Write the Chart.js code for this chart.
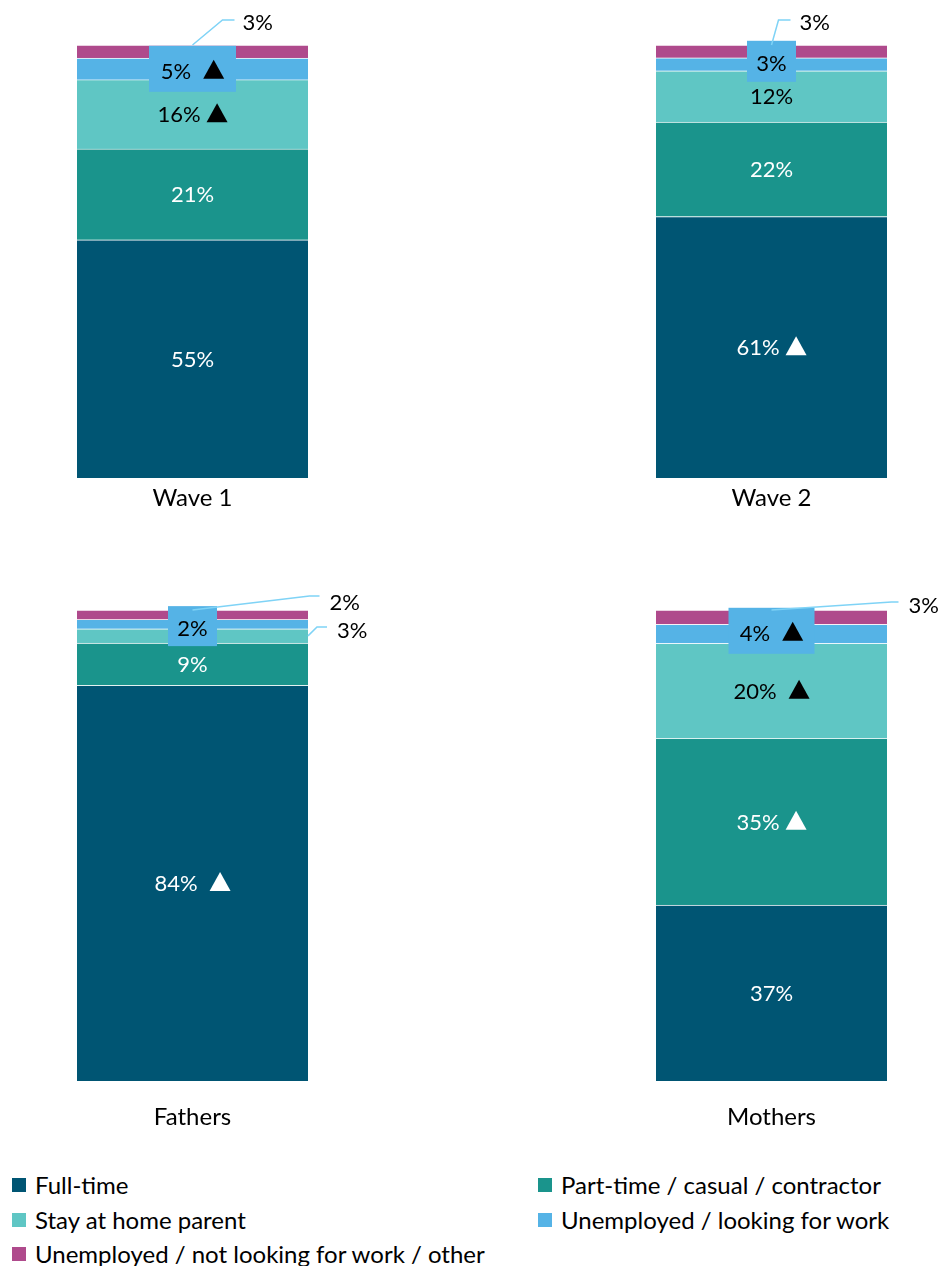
<!DOCTYPE html>
<html>
<head>
<meta charset="utf-8">
<script src="https://cdn.jsdelivr.net/npm/chart.js@4.4.0/dist/chart.umd.min.js"></script>
<style>
  html, body { margin:0; padding:0; background:#fff; }
  body { width:943px; height:1266px; overflow:hidden; position:relative; font-family:Lato, "Noto Sans", sans-serif; }
  canvas { position:absolute; left:0; }
  #c1 { top:0; }
  #c2 { top:560px; }
  .lg { position:absolute; font-size:24px; color:#000; line-height:28px; white-space:nowrap; }
  .lg i { position:absolute; left:0; top:7px; width:14px; height:14px; }
  .lg span { position:absolute; left:23px; top:0; }
</style>
</head>
<body>
<canvas id="c1" width="943" height="518"></canvas>
<canvas id="c2" width="943" height="593"></canvas>
<div id="legend"></div>
<script>
// ---------- DATA ----------
const categoriesTop = ['Wave 1', 'Wave 2'];
const categoriesBottom = ['Fathers', 'Mothers'];
const seriesNames = [
  'Full-time',
  'Part-time / casual / contractor',
  'Stay at home parent',
  'Unemployed / looking for work',
  'Unemployed / not looking for work / other'
];
// values (%) : top = [Wave 1, Wave 2], bottom = [Fathers, Mothers]
const fullTimeTop   = [55, 61];  const fullTimeBottom   = [84, 37];
const partTimeTop   = [21, 22];  const partTimeBottom   = [9, 35];
const stayHomeTop   = [16, 12];  const stayHomeBottom   = [3, 20];
const lookingTop    = [5, 3];    const lookingBottom    = [2, 4];
const otherTop      = [3, 3];    const otherBottom      = [2, 3];
// significance markers (▲)
const sigFullTimeTop = [false, true];  const sigFullTimeBottom = [true, false];
const sigPartTimeTop = [false, false]; const sigPartTimeBottom = [false, true];
const sigStayHomeTop = [true, false];  const sigStayHomeBottom = [false, true];
const sigLookingTop  = [true, false];  const sigLookingBottom  = [false, true];
const sigOtherTop    = [false, false]; const sigOtherBottom    = [false, false];

// ---------- STYLE ----------
const COLORS = ['#005573', '#1A948C', '#5FC6C4', '#55B3E6', '#AF4A8C'];
const LABEL_COLORS = ['#ffffff', '#ffffff', '#000000', '#000000', '#000000'];
const LEADER = '#7FD3F6';
const FONT_SIZE = 22;
const FONT = FONT_SIZE + 'px Lato, "Noto Sans", sans-serif';

const layoutTop = {
  boxes: { '3-0': {w:87, h:46, dy:0}, '3-1': {w:49, h:41, dy:-3} },
  callouts: {
    '4-0': {anchor:'top', pts:[[30,-25],[42,-25]], text:[50,-23]},
    '4-1': {anchor:'top', pts:[[7,-25],[19,-25]], text:[28,-23]}
  },
  spaced: ['3-0']
};
const layoutBottom = {
  boxes: { '3-0': {w:49, h:40, dy:2}, '3-1': {w:86, h:46, dy:-3} },
  callouts: {
    '4-0': {anchor:'top', pts:[[117,-14],[127,-14]], text:[137,-8]},
    '2-0': {anchor:'right', pts:[[9,-9],[19,-9]], text:[29,-6]},
    '4-1': {anchor:'top', pts:[[120,-8],[127,-8]], text:[137,-5]}
  },
  spaced: ['0-0', '3-1', '2-1']
};

function drawTriangle(ctx, x, baseY, color) {
  ctx.fillStyle = color;
  ctx.beginPath();
  ctx.moveTo(x, baseY);
  ctx.lineTo(x + 21, baseY);
  ctx.lineTo(x + 10.5, baseY - 19);
  ctx.closePath();
  ctx.fill();
}

function drawLabel(ctx, text, cx, cy, color, sig, gap) {
  ctx.font = FONT;
  const tw = ctx.measureText(text).width;
  const total = sig ? tw + gap + 21 : tw;
  const x0 = cx - total / 2;
  const baseY = cy + FONT_SIZE * 0.36;
  ctx.fillStyle = color;
  ctx.textAlign = 'left';
  ctx.textBaseline = 'alphabetic';
  ctx.fillText(text, x0, baseY);
  if (sig) drawTriangle(ctx, x0 + tw + gap, baseY, color);
}

const labelPlugin = {
  id: 'segLabels',
  afterDatasetsDraw(chart, args, opts) {
    const ctx = chart.ctx;
    ctx.save();
    chart.data.datasets.forEach((ds, di) => {
      const meta = chart.getDatasetMeta(di);
      meta.data.forEach((bar, i) => {
        const p = bar.getProps(['x', 'y', 'base', 'width'], true);
        const top = Math.min(p.y, p.base), bottom = Math.max(p.y, p.base);
        const cx = p.x, cy = (top + bottom) / 2;
        const key = di + '-' + i;
        const text = opts.raw[di][i] + '%';
        const sig = opts.sig[di][i];
        const gap = opts.layout.spaced.includes(key) ? 12 : 6;
        const co = opts.layout.callouts[key];
        if (co) {
          const ax = co.anchor === 'right' ? cx + p.width / 2 : cx;
          const ay = co.anchor === 'right' ? cy : top;
          ctx.strokeStyle = LEADER;
          ctx.lineWidth = 1.5;
          ctx.beginPath();
          ctx.moveTo(ax, ay);
          co.pts.forEach(pt => ctx.lineTo(ax + pt[0], ay + pt[1]));
          ctx.stroke();
          ctx.font = FONT;
          ctx.fillStyle = '#000';
          ctx.textAlign = 'left';
          ctx.textBaseline = 'alphabetic';
          ctx.fillText(text, ax + co.text[0], ay + co.text[1] + FONT_SIZE * 0.36);
          return;
        }
        let ty = cy;
        const b = opts.layout.boxes[key];
        if (b) {
          ctx.fillStyle = COLORS[di];
          ctx.fillRect(cx - b.w / 2, cy + b.dy - b.h / 2, b.w, b.h);
          ty = cy + b.dy + 2;
        }
        drawLabel(ctx, text, cx, ty, LABEL_COLORS[di], sig, gap);
      });
    });
    ctx.restore();
  }
};

function buildDatasets(raw) {
  const n = raw[0].length;
  const totals = [];
  for (let i = 0; i < n; i++) totals.push(raw.reduce((s, arr) => s + arr[i], 0));
  return raw.map((arr, di) => ({
    label: seriesNames[di],
    data: arr.map((v, i) => v / totals[i] * 100),
    backgroundColor: COLORS[di],
    borderColor: 'rgba(255,255,255,0.35)',
    borderWidth: {top: 1, bottom: 0, left: 0, right: 0},
    borderSkipped: false,
    barThickness: 231,
    clip: false
  }));
}

function makeChart(id, labels, raw, sig, layout, padTop, tickPad) {
  return new Chart(document.getElementById(id), {
    type: 'bar',
    data: { labels: labels, datasets: buildDatasets(raw) },
    options: {
      responsive: false,
      animation: false,
      devicePixelRatio: 1,
      events: [],
      layout: { padding: { left: 192.5, right: 171.5, top: padTop, bottom: 0 } },
      plugins: {
        legend: { display: false },
        tooltip: { enabled: false },
        segLabels: { raw: raw, sig: sig, layout: layout }
      },
      scales: {
        x: {
          stacked: true, offset: false,
          grid: { display: false, drawTicks: false },
          border: { display: false },
          ticks: { color: '#000', maxRotation: 0, autoSkip: false, padding: tickPad,
                   font: { family: 'Lato, "Noto Sans", sans-serif', size: 24, lineHeight: '28px' } }
        },
        y: { stacked: true, display: false, min: 0, max: 100 }
      }
    },
    plugins: [labelPlugin]
  });
}

function buildLegend() {
  const el = document.getElementById('legend');
  const pos = [[12, 1171], [538, 1171], [12, 1206], [538, 1206], [12, 1240]];
  seriesNames.forEach((name, i) => {
    const d = document.createElement('div');
    d.className = 'lg';
    d.style.left = pos[i][0] + 'px';
    d.style.top = pos[i][1] + 'px';
    d.innerHTML = '<i style="background:' + COLORS[i] + '"></i><span></span>';
    d.querySelector('span').textContent = name;
    el.appendChild(d);
  });
}

function init() {
  makeChart('c1', categoriesTop,
    [fullTimeTop, partTimeTop, stayHomeTop, lookingTop, otherTop],
    [sigFullTimeTop, sigPartTimeTop, sigStayHomeTop, sigLookingTop, sigOtherTop],
    layoutTop, 45, 6);
  makeChart('c2', categoriesBottom,
    [fullTimeBottom, partTimeBottom, stayHomeBottom, lookingBottom, otherBottom],
    [sigFullTimeBottom, sigPartTimeBottom, sigStayHomeBottom, sigLookingBottom, sigOtherBottom],
    layoutBottom, 50, 22);
  buildLegend();
}

if (document.fonts && document.fonts.load) {
  document.fonts.load(FONT).then(init, init);
} else {
  init();
}
</script>
</body>
</html>
